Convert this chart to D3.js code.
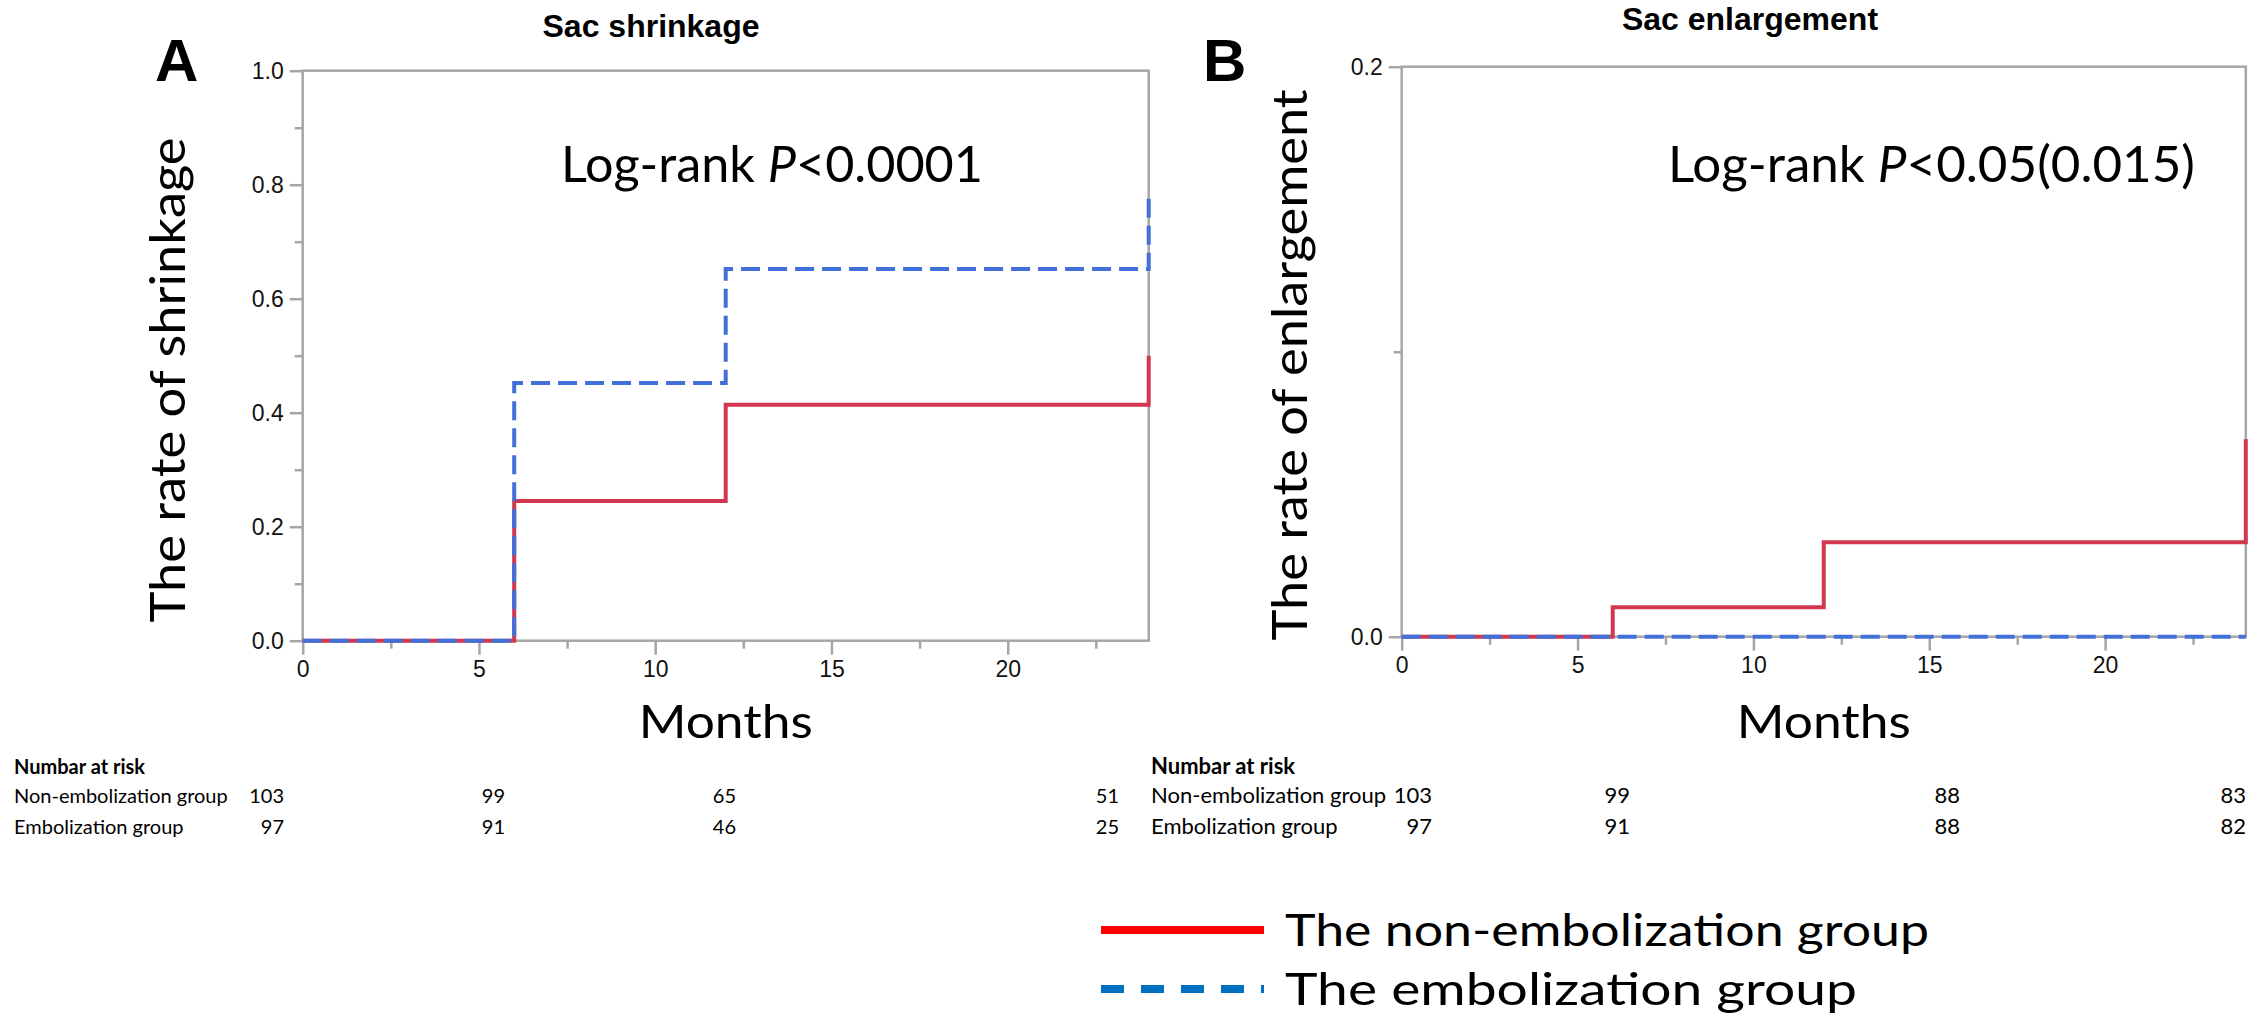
<!DOCTYPE html>
<html>
<head>
<meta charset="utf-8">
<script src="https://cdnjs.cloudflare.com/ajax/libs/d3/7.8.5/d3.min.js"></script>
<style>
  body { margin: 0; background: #fff; }
  .tick text { font-family: "Liberation Sans", Arial, sans-serif; font-size: 23px; fill: #111; }
  .calib { font-family: Lato, "Open Sans", sans-serif; fill: #000; }
</style>
</head>
<body>
<div id="vis"></div>
<script>
// ---- data ----
const stepMonths = [0, 6, 12, 24, 24];
// panel A: cumulative rate of sac shrinkage
const shrinkNonEmb = [0, 0.245, 0.414, 0.414, 0.500];
const shrinkEmb    = [0, 0.452, 0.652, 0.652, 0.777];
// panel B: cumulative rate of sac enlargement
const enlargeNonEmb = [0, 0.0103, 0.0331, 0.0331, 0.0693];
const enlargeEmb    = [0, 0, 0, 0, 0];

const xMajorTicks = [0, 5, 10, 15, 20];
const xMinorTicks = [2.5, 7.5, 12.5, 17.5, 22.5];
const yMajorTicksA = [0, 0.2, 0.4, 0.6, 0.8, 1.0];
const yMinorTicksA = [0.1, 0.3, 0.5, 0.7, 0.9];
const yMajorTicksB = [0, 0.2];
const yMinorTicksB = [0.1];

const riskGroups = ["Non-embolization group", "Embolization group"];
const riskA = [[103, 99, 65, 51], [97, 91, 46, 25]];
const riskB = [[103, 99, 88, 83], [97, 91, 88, 82]];

const ctx = {
    w: 2257,
    h: 1016,
    red: "#d2374f",
    blue: "#4170d8",
    axis: "#a6a6a6"
};

const svg = d3.select("#vis").append("svg")
    .attr("width", ctx.w)
    .attr("height", ctx.h);

function panel(opts) {
    const g = svg.append("g");
    const x = d3.scaleLinear().domain([0, 24]).range([opts.left, opts.right]);
    const y = d3.scaleLinear().domain([0, opts.ymax]).range([opts.bottom, opts.top]);

    // frame
    g.append("rect")
      .attr("x", x(0)).attr("y", y(opts.ymax))
      .attr("width", x(24) - x(0)).attr("height", y(0) - y(opts.ymax))
      .attr("fill", "none").attr("stroke", ctx.axis).attr("stroke-width", 2.5);

    // axes
    const xa = g.append("g").attr("transform", `translate(0,${y(0)})`)
      .call(d3.axisBottom(x).tickValues(xMajorTicks).tickSize(14).tickPadding(6).tickFormat(d3.format("d")));
    const xm = g.append("g").attr("transform", `translate(0,${y(0)})`)
      .call(d3.axisBottom(x).tickValues(xMinorTicks).tickSize(8).tickFormat(""));
    const ya = g.append("g").attr("transform", `translate(${x(0)},0)`)
      .call(d3.axisLeft(y).tickValues(opts.yMajor).tickSize(13).tickPadding(6).tickFormat(d3.format(".1f")));
    const ym = g.append("g").attr("transform", `translate(${x(0)},0)`)
      .call(d3.axisLeft(y).tickValues(opts.yMinor).tickSize(8).tickFormat(""));
    [xa, xm, ya, ym].forEach(a => {
        a.select(".domain").remove();
        a.selectAll("line").attr("stroke", ctx.axis).attr("stroke-width", 2.5);
    });

    // curves
    const line = d3.line()
        .x((d) => x(d[0]))
        .y((d) => y(d[1]))
        .curve(d3.curveStepAfter);
    g.append("path")
      .datum(d3.zip(stepMonths, opts.nonEmb))
      .attr("d", line)
      .attr("fill", "none").attr("stroke", ctx.red).attr("stroke-width", 4);
    g.append("path")
      .datum(d3.zip(stepMonths, opts.emb))
      .attr("d", line)
      .attr("fill", "none").attr("stroke", ctx.blue).attr("stroke-width", 4)
      .attr("stroke-dasharray", "19,8");

    // log-rank text
    const lr = g.append("text").attr("class", "calib")
      .attr("x", opts.lrX).attr("y", 182)
      .attr("font-size", 50)
      .attr("textLength", opts.lrLen).attr("lengthAdjust", "spacingAndGlyphs");
    lr.append("tspan").text("Log-rank ");
    lr.append("tspan").attr("font-style", "italic").text("P");
    lr.append("tspan").text(opts.lrText);

    // y label
    g.append("text").attr("class", "calib")
      .attr("transform", `translate(${opts.ylabX},${opts.ylabY}) rotate(-90)`)
      .attr("text-anchor", "middle")
      .attr("font-size", 48)
      .attr("textLength", opts.ylabLen).attr("lengthAdjust", "spacingAndGlyphs")
      .text(opts.ylab);

    // x label
    g.append("text").attr("class", "calib")
      .attr("x", (x(0) + x(24)) / 2).attr("y", 738)
      .attr("text-anchor", "middle")
      .attr("font-size", 46)
      .attr("textLength", 174).attr("lengthAdjust", "spacingAndGlyphs")
      .text("Months");

    // title + panel letter
    g.append("text")
      .attr("x", opts.titleX).attr("y", opts.titleY)
      .attr("text-anchor", "middle")
      .style("font-family", "'Liberation Sans', Arial, sans-serif")
      .style("font-weight", "bold").style("font-size", "32px")
      .text(opts.title);
    g.append("text")
      .attr("x", opts.letterX).attr("y", 81)
      .style("font-family", "'Liberation Sans', Arial, sans-serif")
      .style("font-weight", "bold").style("font-size", "60px")
      .text(opts.letter);

    // number at risk table
    const t = g.append("g").attr("class", "calib").style("font-size", opts.tabFont + "px");
    t.append("text").attr("x", opts.tabX).attr("y", 774)
      .style("font-weight", "bold").text("Numbar at risk");
    riskGroups.forEach((grp, i) => {
        const yy = 803 + i * 31;
        t.append("text").attr("x", opts.tabX).attr("y", yy).text(grp);
        opts.risk[i].forEach((n, j) => {
            t.append("text").attr("x", opts.colX[j]).attr("y", yy)
              .attr("text-anchor", "end").text(n);
        });
    });
}

panel({
    left: 302.7, right: 1148.7, top: 70.7, bottom: 640.7, ymax: 1.0,
    yMajor: yMajorTicksA, yMinor: yMinorTicksA,
    nonEmb: shrinkNonEmb, emb: shrinkEmb,
    lrX: 561, lrLen: 422, lrText: "<0.0001",
    ylab: "The rate of shrinkage", ylabX: 185, ylabY: 380, ylabLen: 485,
    title: "Sac shrinkage", titleX: 651, titleY: 37,
    letter: "A", letterX: 155,
    tabX: 14, tabFont: 20, risk: riskA, colX: [284, 505, 736, 1119]
});

panel({
    left: 1401.7, right: 2245.8, top: 66.7, bottom: 636.7, ymax: 0.2,
    yMajor: yMajorTicksB, yMinor: yMinorTicksB,
    nonEmb: enlargeNonEmb, emb: enlargeEmb,
    lrX: 1668, lrLen: 527, lrText: "<0.05(0.015)",
    ylab: "The rate of enlargement", ylabX: 1307, ylabY: 365, ylabLen: 551,
    title: "Sac enlargement", titleX: 1750, titleY: 30,
    letter: "B", letterX: 1203,
    tabX: 1151, tabFont: 22, risk: riskB, colX: [1432, 1630, 1960, 2246]
});

// legend
const legendItems = ["The non-embolization group", "The embolization group"];
const legendY = [930, 989];
const leg = svg.append("g");
leg.append("line").attr("x1", 1101).attr("x2", 1264).attr("y1", legendY[0]).attr("y2", legendY[0])
   .attr("stroke", "#ff0000").attr("stroke-width", 8);
leg.append("line").attr("x1", 1101).attr("x2", 1264).attr("y1", legendY[1]).attr("y2", legendY[1])
   .attr("stroke", "#0070c0").attr("stroke-width", 8).attr("stroke-dasharray", "23,17");
legendItems.forEach((txt, i) => {
    leg.append("text").attr("class", "calib")
      .attr("x", 1285).attr("y", legendY[i] + 16)
      .attr("font-size", 44)
      .attr("textLength", i === 0 ? 644 : 572).attr("lengthAdjust", "spacingAndGlyphs")
      .text(txt);
});
</script>
</body>
</html>
